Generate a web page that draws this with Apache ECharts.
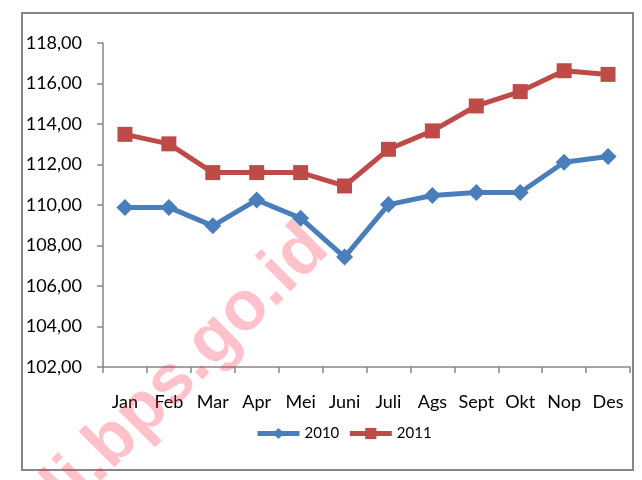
<!DOCTYPE html>
<html>
<head>
<meta charset="utf-8">
<script src="https://cdn.jsdelivr.net/npm/echarts@6/dist/echarts.min.js"></script>
<style>
  html, body { margin: 0; padding: 0; background: #fff; }
  #chart { width: 642px; height: 480px; }
</style>
</head>
<body>
<div id="chart"></div>
<script>
// data
const months = ["Jan", "Feb", "Mar", "Apr", "Mei", "Juni", "Juli", "Ags", "Sept", "Okt", "Nop", "Des"];
const data2010 = [109.88, 109.88, 108.97, 110.25, 109.35, 107.43, 110.02, 110.47, 110.62, 110.62, 112.11, 112.39];
const data2011 = [113.49, 113.02, 111.60, 111.60, 111.60, 110.94, 112.75, 113.66, 114.89, 115.60, 116.63, 116.45];

const axisGrey = "#868686";
const font = "Lato, 'Open Sans', sans-serif";

const chart = echarts.init(document.getElementById("chart"));
chart.setOption({
    animation: false,
    grid: { left: 103, right: 12, top: 43, bottom: 113 },
    legend: {
        bottom: 34,
        left: 250,
        itemWidth: 42,
        itemHeight: 14,
        itemGap: 8,
        lineStyle: { width: 5 },
        textStyle: { fontFamily: font, fontSize: 15, color: "#000" },
        data: ["2010", "2011"],
    },
    xAxis: {
        type: "category",
        data: months,
        boundaryGap: true,
        axisLine: { lineStyle: { color: axisGrey, width: 1.5 } },
        axisTick: { show: true, length: 6, lineStyle: { color: axisGrey, width: 1.5 } },
        axisLabel: { margin: 26, fontFamily: font, fontSize: 18, color: "#000", interval: 0 },
    },
    yAxis: {
        type: "value",
        min: 102,
        max: 118,
        interval: 2,
        splitLine: { show: false },
        axisLine: { show: true, lineStyle: { color: axisGrey, width: 1.5 } },
        axisTick: { show: true, length: 6, lineStyle: { color: axisGrey, width: 1.5 } },
        axisLabel: {
            margin: 21,
            fontFamily: font,
            fontSize: 18,
            color: "#000",
            formatter: (v) => v.toFixed(2).replace(".", ","),
        },
    },
    series: [
        {
            name: "2010",
            type: "line",
            data: data2010,
            symbol: "diamond",
            symbolSize: 17,
            itemStyle: { color: "#4a7ebb" },
            lineStyle: { color: "#4a7ebb", width: 5 },
        },
        {
            name: "2011",
            type: "line",
            data: data2011,
            symbol: "rect",
            symbolSize: 15,
            itemStyle: { color: "#be4b48" },
            lineStyle: { color: "#be4b48", width: 5 },
        },
    ],
    graphic: [
        {
            type: "rect",
            shape: { x: 22, y: 13, width: 611, height: 457 },
            style: { fill: "none", stroke: axisGrey, lineWidth: 2 },
            z: -1,
        },
        {
            // watermark
            type: "text",
            x: 342,
            y: 262,
            rotation: Math.PI / 4,
            z: 100,
            style: {
                text: "bali.bps.go.id",
                fill: "rgba(255, 30, 60, 0.27)",
                font: "bold 70px 'Liberation Sans', Arial, sans-serif",
                textAlign: "right",
                textVerticalAlign: "bottom",
            },
        },
    ],
});
</script>
</body>
</html>
